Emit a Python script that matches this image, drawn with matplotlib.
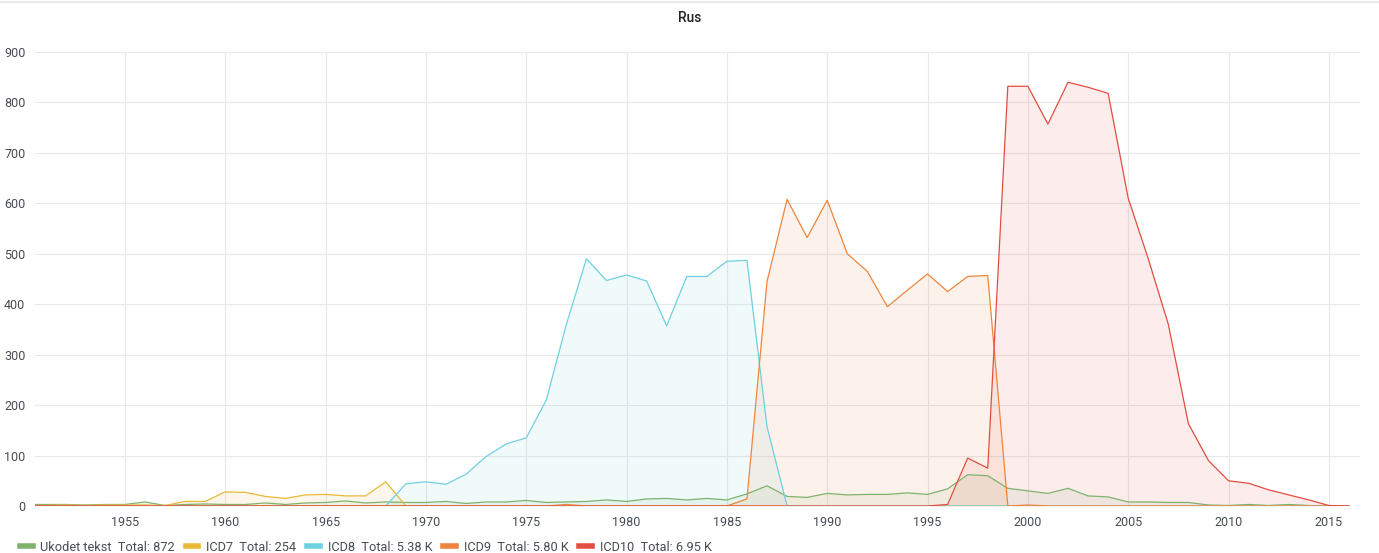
import numpy as np
import matplotlib.pyplot as plt
from matplotlib.lines import Line2D

plt.rcParams['font.family'] = ['Roboto', 'DejaVu Sans']

years = np.arange(1950, 2017)

# values per year 1950..2016
ukodet = [3, 3, 3, 2, 3, 3, 8, 1, 3, 4, 3, 3, 6, 3, 6, 7, 10, 6, 8, 7,
          7, 9, 5, 8, 8, 11, 7, 8, 9, 12, 9, 14, 15, 12, 15, 12, 24, 40, 19, 17,
          25, 22, 23, 23, 26, 23, 34, 62, 60, 35, 30, 25, 35, 20, 18, 8, 8, 7, 7, 2,
          1, 3, 1, 3, 1, 0, 0]
icd7 = [1, 1, 2, 1, 2, 2, 2, 1, 9, 9, 28, 27, 19, 15, 22, 23, 20, 20, 48, 0,
        0, 0, 0, 0, 0, 0, 0, 0, 0, 0, 0, 0, 0, 0, 0, 0, 0, 0, 0, 0,
        0, 0, 0, 0, 0, 0, 0, 0, 0, 0, 0, 0, 0, 0, 0, 0, 0, 0, 0, 0,
        0, 0, 0, 0, 0, 0, 0]
icd8 = [0, 0, 0, 0, 0, 0, 0, 0, 0, 0, 0, 0, 0, 0, 0, 0, 0, 0, 0, 44,
        48, 43, 63, 98, 123, 135, 210, 360, 490, 447, 458, 446, 357, 455, 455, 485, 487, 157, 0, 0,
        0, 0, 0, 0, 0, 0, 0, 0, 0, 0, 0, 0, 0, 0, 0, 0, 0, 0, 0, 0,
        0, 0, 0, 0, 0, 0, 0]
icd9 = [0, 0, 0, 0, 0, 0, 0, 0, 0, 0, 0, 0, 0, 0, 0, 0, 0, 0, 0, 0,
        0, 0, 0, 0, 0, 0, 0, 3, 0, 0, 0, 0, 0, 0, 0, 0, 14, 445, 608, 532,
        606, 500, 465, 395, 428, 460, 425, 455, 457, 0, 2, 0, 0, 0, 0, 0, 0, 0, 0, 0,
        0, 0, 0, 0, 0, 0, 0]
icd10 = [0, 0, 0, 0, 0, 0, 0, 0, 0, 0, 0, 0, 0, 0, 0, 0, 0, 0, 0, 0,
         0, 0, 0, 0, 0, 0, 0, 0, 0, 0, 0, 0, 0, 0, 0, 0, 0, 0, 0, 0,
         0, 0, 0, 0, 0, 0, 3, 95, 75, 832, 832, 757, 840, 830, 818, 610, 490, 360, 163, 90,
         50, 45, 32, 22, 12, 1, 0]

names = ['Ukodet tekst', 'ICD7', 'ICD8', 'ICD9', 'ICD10']
totals = ['872', '254', '5.38 K', '5.80 K', '6.95 K']
colors = ['#7EB26D', '#EAB839', '#6ED0E0', '#EF843C', '#E24D42']
series = [ukodet, icd7, icd8, icd9, icd10]

fig = plt.figure(figsize=(13.79, 5.53), dpi=100)
ax = fig.add_axes([0.0254, 0.085, 0.9608, 0.821])

for vals, c in zip(series, colors):
    ax.fill_between(years, vals, 0, color=c, alpha=0.1, linewidth=0)
    ax.plot(years, vals, color=c, linewidth=0.9)

ax.set_xlim(1950.52, 2016.55)
ax.set_ylim(0, 900)
ax.set_xticks(np.arange(1955, 2016, 5))
ax.set_yticks(np.arange(0, 901, 100))
ax.grid(True, color='#e8e8e8', linewidth=0.8)
ax.set_axisbelow(True)
for s in ax.spines.values():
    s.set_visible(False)
ax.tick_params(length=0, labelsize=9, colors='#464c54', pad=7)

fig.text(0.5, 0.967, 'Rus', ha='center', va='center', fontsize=10,
         fontweight='medium', color='#202226')
fig.add_artist(Line2D([0, 1], [0.997, 0.997], color='#e6e6e6', linewidth=1.2))

handles = [Line2D([0], [0], color=c, linewidth=4) for c in colors]
labels = [f'{n}  Total: {t}' for n, t in zip(names, totals)]
fig.legend(handles, labels, loc='lower left', bbox_to_anchor=(0.006, -0.022),
           ncol=5, frameon=False, fontsize=9.2, handlelength=1.0,
           handletextpad=0.6, columnspacing=0.85, labelcolor='#464c54')

fig.savefig('out.png', dpi=100)
